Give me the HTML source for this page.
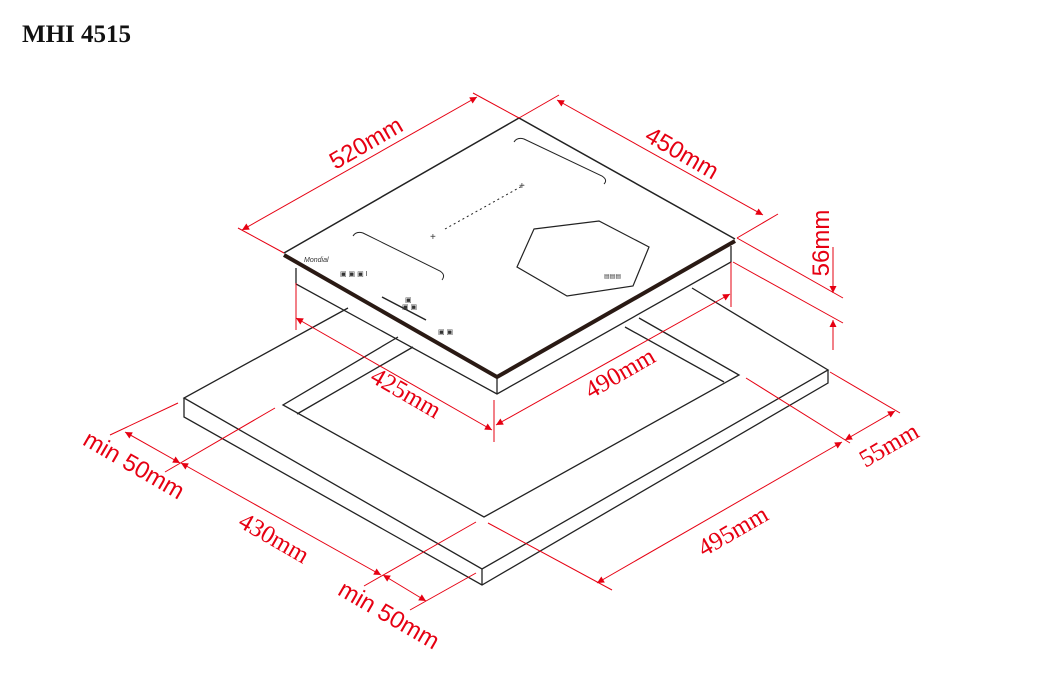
<!DOCTYPE html>
<html><head><meta charset="utf-8"><style>
html,body{margin:0;padding:0;background:#fff;}
svg{display:block}
.s{font-family:"Liberation Sans",sans-serif;font-size:24px;fill:#e60012}
.f{font-family:"Liberation Serif",serif;font-size:25px;fill:#e60012}
</style></head><body>
<svg width="1040" height="687" viewBox="0 0 1040 687" xmlns="http://www.w3.org/2000/svg">
<defs><marker id="a" viewBox="0 0 10 10" refX="10" refY="5" markerWidth="10" markerHeight="7" orient="auto-start-reverse" markerUnits="userSpaceOnUse"><path d="M0,0 L10,5 L0,10 z" fill="#e60012"/></marker></defs>
<text x="22" y="42" font-family="Liberation Serif,serif" font-weight="bold" font-size="25" fill="#111">MHI 4515</text>

<g fill="none" stroke="#222" stroke-width="1.3">
<polyline points="348,308 184,398 482,569 828,370 692,288"/>
<polyline points="184,398 184,417 482,585 828,383 828,370"/>
<line x1="482" y1="569" x2="482" y2="585"/>
<polyline points="398,337 283,405 484,517 739,375 639,318"/>
<line x1="413" y1="347" x2="297" y2="414"/>
<line x1="625" y1="327" x2="724" y2="382"/>
<polyline points="296,268 296,284 497,394 731,262 731,246"/>
<line x1="497" y1="379" x2="497" y2="394"/>
<polyline points="284,253 519,118 735,239" stroke-width="1.5"/>
<polyline points="284,255 497,377 735,241" stroke="#2a1a14" stroke-width="4"/>
<path d="M514,142 q3,-5 10,-3 L602,176 q6,4 2,8" stroke-width="1"/>
<path d="M353,236 q3,-5 10,-3 L440,271 q6,4 2,9" stroke-width="1"/>
<polygon points="534,229 599,221 649,247 633,286 567,296 517,267" stroke-width="1.2"/>
<line x1="445" y1="229" x2="524" y2="185" stroke-dasharray="2,3" stroke-width="1"/>
<line x1="382" y1="297" x2="426" y2="320" stroke-width="1.5"/>
</g>
<g font-family="Liberation Sans,sans-serif" font-size="10" fill="#333">
<text x="430" y="240">+</text><text x="519" y="189">+</text>
<text x="340" y="276" font-size="7">▣ ▣ ▣ I</text>
<text x="405" y="302" font-size="7">▣</text><text x="402" y="309" font-size="7">▣ ▣</text>
<text x="438" y="334" font-size="7">▣ ▣</text>
<text x="604" y="278" font-size="6">▤▤▤</text>
<text x="304" y="262" font-size="7" font-style="italic">Mondial</text>
</g>

<g stroke="#e60012" stroke-width="1" fill="none">
<line x1="284" y1="253" x2="238" y2="228"/><line x1="519" y1="118" x2="473" y2="93"/>
<line x1="242" y1="230" x2="477" y2="97" marker-start="url(#a)" marker-end="url(#a)"/>
<line x1="519" y1="118" x2="559" y2="95"/><line x1="737" y1="238" x2="778" y2="214"/>
<line x1="557" y1="100" x2="763" y2="215" marker-start="url(#a)" marker-end="url(#a)"/>
<line x1="737" y1="238" x2="843" y2="298"/><line x1="733" y1="262" x2="843" y2="323"/>
<line x1="833" y1="247" x2="833" y2="293" marker-end="url(#a)"/>
<line x1="833" y1="350" x2="833" y2="320" marker-end="url(#a)"/>
<line x1="296" y1="283" x2="296" y2="330"/><line x1="494" y1="400" x2="494" y2="442"/><line x1="731" y1="262" x2="731" y2="307"/>
<line x1="296" y1="318" x2="492" y2="430" marker-start="url(#a)" marker-end="url(#a)"/>
<line x1="496" y1="425" x2="730" y2="294" marker-start="url(#a)" marker-end="url(#a)"/>
<line x1="830" y1="372" x2="900" y2="413"/><line x1="746" y1="378" x2="850" y2="443"/>
<line x1="845" y1="440" x2="895" y2="411" marker-start="url(#a)" marker-end="url(#a)"/>
<line x1="488" y1="523" x2="612" y2="590"/>
<line x1="597" y1="583" x2="842" y2="442" marker-start="url(#a)" marker-end="url(#a)"/>
<line x1="178" y1="403" x2="110" y2="435"/><line x1="275" y1="408" x2="165" y2="472"/>
<line x1="125" y1="432" x2="180" y2="463" marker-start="url(#a)" marker-end="url(#a)"/>
<line x1="181" y1="463" x2="381" y2="575" marker-start="url(#a)" marker-end="url(#a)"/>
<line x1="476" y1="522" x2="364" y2="586"/><line x1="476" y1="573" x2="410" y2="610"/>
<line x1="383" y1="575" x2="426" y2="601" marker-start="url(#a)" marker-end="url(#a)"/>
</g>

<text class="s" transform="translate(370,150) rotate(-30)" text-anchor="middle">520mm</text>
<text class="s" transform="translate(678,160) rotate(30)" text-anchor="middle">450mm</text>
<text class="s" transform="translate(829,243) rotate(-90)" text-anchor="middle">56mm</text>
<text class="f" transform="translate(402,400) rotate(30)" text-anchor="middle">425mm</text>
<text class="f" transform="translate(624,380) rotate(-30)" text-anchor="middle">490mm</text>
<text class="f" transform="translate(893,452) rotate(-30)" text-anchor="middle">55mm</text>
<text class="f" transform="translate(737,538) rotate(-30)" text-anchor="middle">495mm</text>
<text class="f" transform="translate(270,545) rotate(30)" text-anchor="middle">430mm</text>
<text class="s" transform="translate(130,472) rotate(30)" text-anchor="middle">min 50mm</text>
<text class="s" transform="translate(385,622) rotate(30)" text-anchor="middle">min 50mm</text>
</svg>
</body></html>
